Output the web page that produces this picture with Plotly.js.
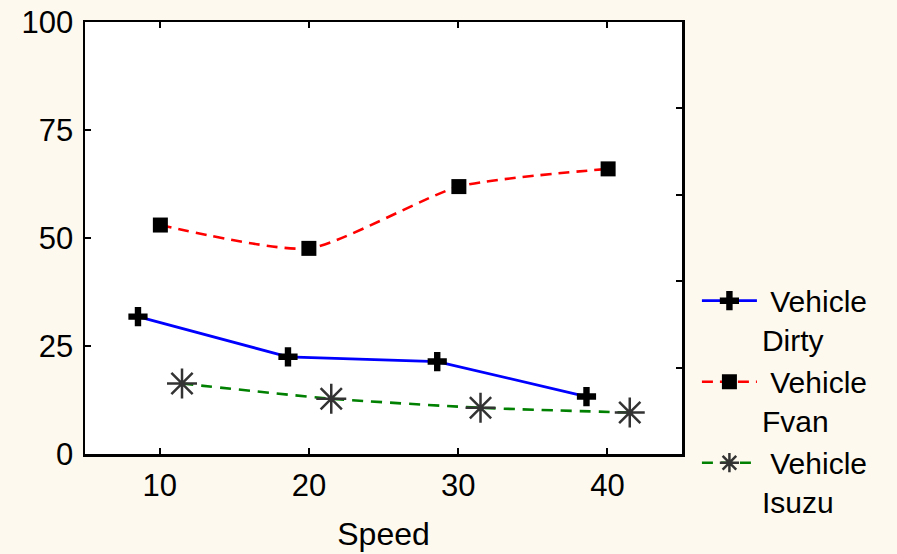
<!DOCTYPE html>
<html>
<head>
<meta charset="utf-8">
<script src="https://cdn.plot.ly/plotly-3.0.1.min.js"></script>
<style>html,body{margin:0;padding:0;background:#fdf9ee;}</style>
</head>
<body>
<div id="chart" style="width:897px;height:554px;"></div>
<script>
// Data
var dirtySpeed = [8.55, 18.6, 28.6, 38.6];
var dirtyValue = [31.8, 22.5, 21.4, 13.3];
var fvanSpeed = [10.05, 20.0, 30.05, 40.05];
var fvanValue = [53.0, 47.6, 61.9, 66.0];
var isuzuSpeed = [11.5, 21.5, 31.5, 41.5];
var isuzuValue = [16.3, 12.8, 10.7, 9.6];
var seriesNames = ['\u00a0Vehicle<br>Dirty', '\u00a0Vehicle<br>Fvan', '\u00a0Vehicle<br>Isuzu'];
var xTicks = [10, 20, 30, 40];
var yTicks = [0, 25, 50, 75, 100];
var yRightTicks = [20, 40, 60, 80];

var FONT = 'Liberation Sans, Arial, sans-serif';

var traces = [
  {
    x: dirtySpeed, y: dirtyValue, name: seriesNames[0], type: 'scatter', mode: 'lines+markers',
    line: {color: '#0000ff', width: 2.8},
    marker: {symbol: 'cross', size: 16, color: '#000', line: {width: 0}}
  },
  {
    x: fvanSpeed, y: fvanValue, name: seriesNames[1], type: 'scatter', mode: 'lines+markers',
    line: {color: '#ff0000', width: 2.6, dash: '11px,7px', shape: 'spline', smoothing: 0.6},
    marker: {symbol: 'square', size: 15, color: '#000', line: {width: 0}}
  },
  {
    x: isuzuSpeed, y: isuzuValue, name: seriesNames[2], type: 'scatter', mode: 'lines+markers',
    line: {color: '#008000', width: 2.6, dash: '11px,8px', shape: 'spline', smoothing: 0.6},
    marker: {symbol: 'asterisk-open', size: 25, color: '#333', line: {color: '#333', width: 2.5}}
  },
  {
    x: [], y: [], yaxis: 'y2', showlegend: false, hoverinfo: 'skip', type: 'scatter'
  }
];

var layout = {
  width: 897, height: 554,
  margin: {l: 85, r: 215, t: 22, b: 100, pad: 0},
  paper_bgcolor: '#fdf9ee',
  plot_bgcolor: '#ffffff',
  font: {family: FONT, size: 31, color: '#000'},
  showlegend: true,
  xaxis: {
    range: [5, 45], tickvals: xTicks, ticktext: xTicks.map(String),
    ticks: 'inside', ticklen: 6, tickwidth: 2, tickcolor: '#000',
    showline: true, linecolor: '#000', linewidth: 2.5, mirror: 'ticks',
    showgrid: false, zeroline: false,
    tickfont: {family: FONT, size: 31, color: '#000'},
    ticklabelstandoff: 2,
    title: {text: 'Speed', font: {family: FONT, size: 32, color: '#000'}, standoff: 21}
  },
  yaxis: {
    range: [0, 100], tickvals: yTicks, ticktext: yTicks.map(String),
    ticks: 'inside', ticklen: 6, tickwidth: 2, tickcolor: '#000',
    showline: true, linecolor: '#000', linewidth: 2.5, mirror: true,
    showgrid: false, zeroline: false,
    tickfont: {family: FONT, size: 31, color: '#000'},
    ticklabelstandoff: 3
  },
  yaxis2: {
    overlaying: 'y', side: 'right', range: [0, 100], tickvals: yRightTicks,
    showticklabels: false, ticks: 'inside', ticklen: 6, tickwidth: 2, tickcolor: '#000',
    showline: false, showgrid: false, zeroline: false
  },
  legend: {
    x: 1.025, xanchor: 'left', y: 0.415, yanchor: 'top',
    bgcolor: 'rgba(0,0,0,0)', borderwidth: 0,
    font: {family: FONT, size: 30, color: '#000'},
    itemwidth: 55, valign: 'top', tracegroupgap: 0
  }
};

Plotly.newPlot('chart', traces, layout, {staticPlot: true, displayModeBar: false});
</script>
</body>
</html>
